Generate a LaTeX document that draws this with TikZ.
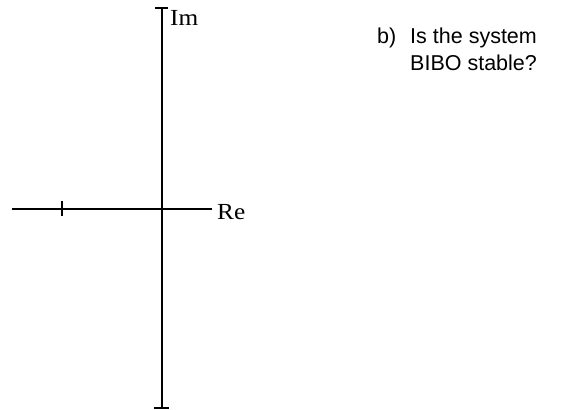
\documentclass[tikz,border=0pt]{standalone}
\usepackage{fontspec}
\setmainfont{Liberation Serif}
\newfontfamily\arialfont{Liberation Sans}
\newcommand{\wideserif}[1]{\scalebox{1.1}[1]{#1}}
\begin{document}
\begin{tikzpicture}[x=1pt,y=-1pt,
  axis/.style={line width=1.6pt},
  tickmark/.style={line width=1.4pt},
  axlabel/.style={font=\fontsize{23}{26}\selectfont, inner sep=0pt, anchor=base west},
  qtext/.style={font=\arialfont\fontsize{21.5}{28}\selectfont, inner sep=0pt, anchor=base west}]
\useasboundingbox (0,0) rectangle (572,409);
\coordinate (top) at (162,8);
\coordinate (bot) at (162,408);
\coordinate (left) at (12,209);
\coordinate (right) at (212,209);
\coordinate (o) at (162,209);
\coordinate (p) at (62,209);
\draw[axis] (top) -- (bot);
\draw[axis] (left) -- (right);
\draw[tickmark] ([xshift=-7pt]top) -- ([xshift=6pt]top);
\draw[tickmark] ([xshift=-8pt]bot) -- ([xshift=7pt]bot);
\draw[tickmark] ([yshift=-7pt]p) -- ([yshift=8pt]p);
\draw[tickmark] ([xshift=-7pt]o) -- ([xshift=7pt]o);
\node[axlabel] (im) at (170,26) {\wideserif{Im}};
\node[axlabel] (re) at (217,219) {\wideserif{Re}};
\node[qtext] (b) at (377,44) {b)};
\node[qtext] (l1) at (410,44) {Is the system};
\node[qtext] (l2) at (410,71) {BIBO stable?};
\end{tikzpicture}
\end{document}
